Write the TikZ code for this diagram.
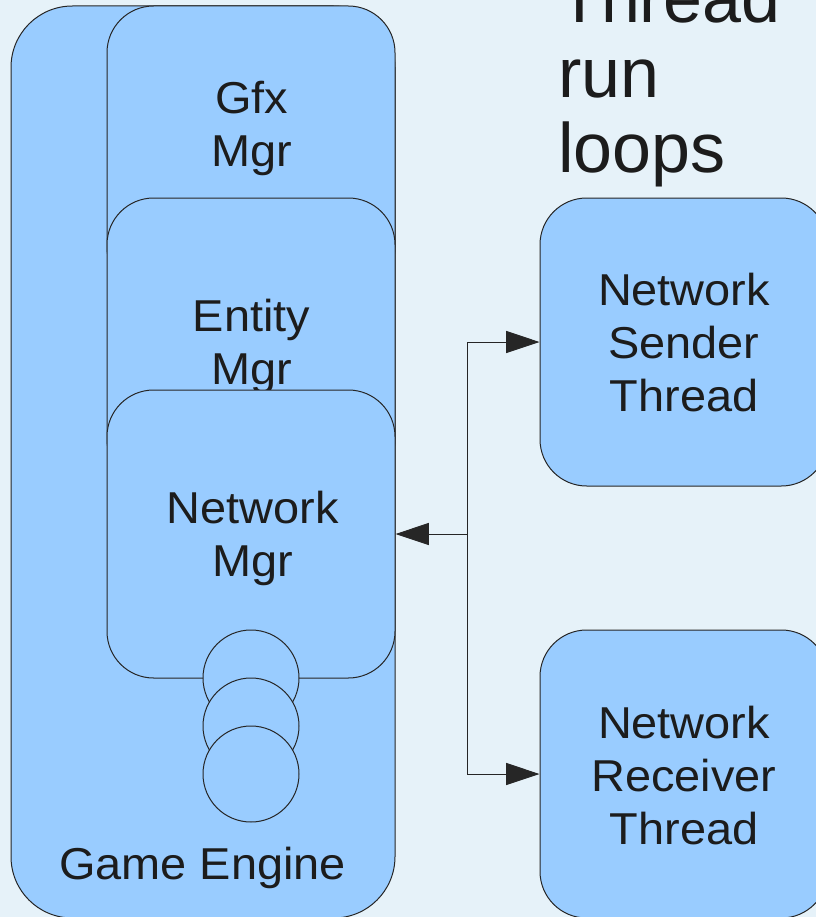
\documentclass[tikz,border=0pt]{standalone}
\usepackage{fontspec}
\setmainfont{Liberation Sans}
\newfontfamily\boxfont[FakeStretch=1.05]{Liberation Sans}
\usetikzlibrary{arrows.meta}
\definecolor{pagebg}{HTML}{E6F2F9}
\definecolor{boxblue}{HTML}{99CCFF}
\definecolor{ink}{HTML}{1C1C1C}
\tikzset{
  mgrbox/.style={draw=black!85, fill=boxblue, line width=0.75pt,
    rounded corners=35pt, minimum width=216pt, minimum height=216pt,
    inner sep=0pt},
  enginebox/.style={mgrbox, rounded corners=46pt,
    minimum width=288pt, minimum height=684pt},
  boxlabel/.style={text=ink, align=center, inner sep=0pt, anchor=base,
    font=\boxfont\fontsize{33.5}{39.75}\selectfont},
  queue/.style={circle, draw=black!85, fill=boxblue, line width=0.75pt,
    minimum size=72pt, inner sep=0pt},
  link/.style={draw=black!85, line width=0.75pt,
    -{Triangle[length=25pt, width=16.5pt]}}
}
\begin{document}
\begin{tikzpicture}[x=0.75pt, y=-0.75pt]
  \useasboundingbox (0,0) rectangle (816,917);
  \fill[pagebg] (0,0) rectangle (816,917);
  \clip (0,0) rectangle (816,917);

  % game engine and its managers (labels placed by last baseline)
  \node[enginebox] (engine) at (203,462) {};
  \node[boxlabel] (enginelabel) at (202.5,879.3) {Game Engine};
  \node[mgrbox] (gfx) at (251,150) {};
  \node[boxlabel] (gfxlabel) at (251.5,166.7) {Gfx\\Mgr};
  \node[mgrbox] (entity) at (251,342) {};
  \node[boxlabel] (entitylabel) at (251.5,384.7) {Entity\\Mgr};
  \node[mgrbox] (net) at (251,534) {};
  \node[boxlabel] (netlabel) at (252.5,576) {Network\\Mgr};

  % message queues below the network manager
  \node[queue] (q1) at (251,678) {};
  \node[queue] (q2) at (251,726) {};
  \node[queue] (q3) at (251,774) {};

  % worker threads
  \node[anchor=base west, text=ink, align=left, inner sep=0pt,
    font=\fontsize{52.5}{56.25}\selectfont] (title) at (558,172) {Thread\\run\\loops};
  \node[mgrbox] (send) at (684,342) {};
  \node[boxlabel] (sendlabel) at (684,411.7) {Network\\Sender\\Thread};
  \node[mgrbox] (recv) at (684,774) {};
  \node[boxlabel] (recvlabel) at (684,844) {Network\\Receiver\\Thread};

  % connectors
  \coordinate (hub) at (467,534);
  \draw[link] (hub) -- (net.east);
  \draw[link] (hub) |- (send.west);
  \draw[link] (hub) |- (recv.west);
\end{tikzpicture}
\end{document}
